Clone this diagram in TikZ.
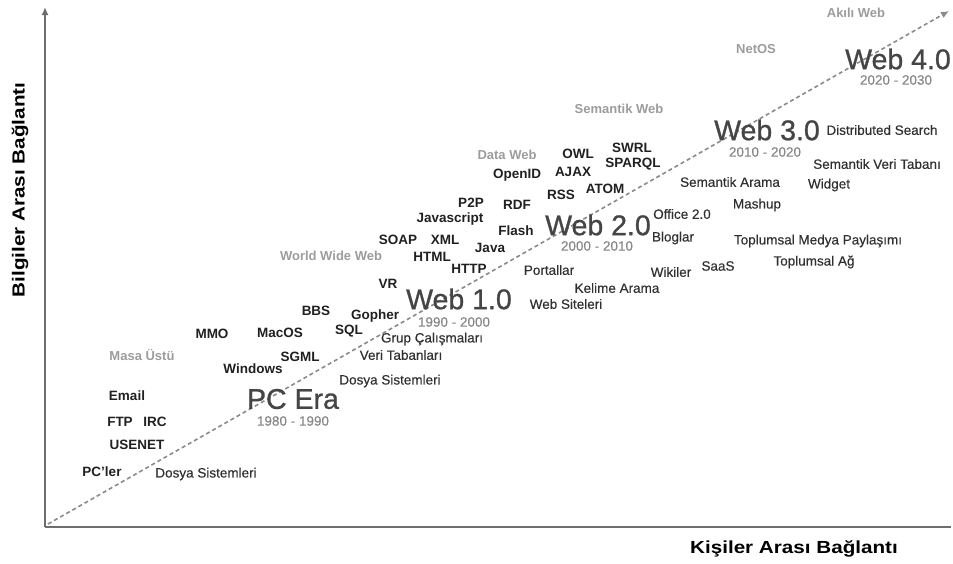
\documentclass[tikz,border=0pt]{standalone}
\usepackage{fontspec}
\setmainfont{Liberation Sans}
\newfontfamily\heavyfont[FakeBold=0.9]{Liberation Sans}
\newfontfamily\mediumfont[FakeBold=0.35]{Liberation Sans}
\usetikzlibrary{arrows.meta}
\definecolor{axisgray}{HTML}{6E6E6E}
\definecolor{dashgray}{HTML}{8A8A8A}
\definecolor{termblack}{HTML}{202020}
\definecolor{plaintext}{HTML}{303030}
\definecolor{eragray}{HTML}{9C9C9C}
\definecolor{webgray}{HTML}{454545}
\definecolor{yeargray}{HTML}{888888}
\tikzset{
  lbl/.style={inner sep=0pt, anchor=center},
  term/.style={lbl, text=termblack, font=\fontsize{13.5}{15}\selectfont\bfseries},
  plain/.style={lbl, text=plaintext, font=\mediumfont\fontsize{13.5}{15}\selectfont},
  era/.style={lbl, text=eragray, font=\fontsize{13}{15}\selectfont\bfseries},
  webname/.style={lbl, text=webgray, font=\heavyfont\fontsize{28.5}{32}\selectfont},
  years/.style={lbl, text=yeargray, font=\mediumfont\fontsize{13.5}{15}\selectfont},
  axislabel/.style={lbl, text=black, font=\fontsize{17.5}{20}\selectfont\bfseries},
  axisline/.style={draw=axisgray, line width=2pt},
  trend/.style={draw=dashgray, line width=1.6pt, dash pattern=on 4pt off 3pt,
    -{Latex[length=8pt,width=7pt]}}
}
\begin{document}
\begin{tikzpicture}[x=1pt,y=-1pt]
\useasboundingbox (0,0) rectangle (953,563);

% axes
\coordinate (origin) at (45,527);
\coordinate (ytop) at (45,7);
\coordinate (xend) at (951,527);
\coordinate (tstart) at (48,524);
\coordinate (ttop) at (949,11);
\draw[axisline, -{Latex[length=8pt,width=7pt]}, fill=black!80] (origin) -- (ytop);
\draw[axisline] (origin) -- (xend);
\draw[trend] (tstart) -- (ttop);

\node[axislabel, rotate=90, transform shape, xscale=1.18] (ylab) at (20,190) {Bilgiler Arası Bağlantı};
\node[axislabel, xscale=1.18, transform shape] (xlab) at (794,549) {Kişiler Arası Bağlantı};

% eras
\node[era] (masa) at (142,355) {Masa Üstü};
\node[era] (www) at (331,256) {World Wide Web};
\node[era] (dataweb) at (507,155) {Data Web};
\node[era] (semweb) at (619,109) {Semantik Web};
\node[era] (netos) at (756,49) {NetOS};
\node[era] (akilli) at (856,13) {Akılı Web};

% generations
\node[webname] (pcera) at (293,399) {PC Era};
\node[years] (y80) at (293,421) {1980 - 1990};
\node[webname] (web1) at (459,299) {Web 1.0};
\node[years] (y90) at (454,322) {1990 - 2000};
\node[webname] (web2) at (598,225) {Web 2.0};
\node[years] (y00) at (597,246) {2000 - 2010};
\node[webname] (web3) at (767,130) {Web 3.0};
\node[years] (y10) at (765,152) {2010 - 2020};
\node[webname] (web4) at (898,59) {Web 4.0};
\node[years] (y20) at (896,80) {2020 - 2030};

% technologies
\node[term] (email) at (127,396) {Email};
\node[term] (ftp) at (120,422) {FTP};
\node[term] (irc) at (155,422) {IRC};
\node[term] (usenet) at (137,445) {USENET};
\node[term] (pcler) at (102,472) {PC'ler};
\node[term] (mmo) at (212,334) {MMO};
\node[term] (macos) at (280,333) {MacOS};
\node[term] (windows) at (253,369) {Windows};
\node[term] (sgml) at (300,357) {SGML};
\node[term] (bbs) at (316,311) {BBS};
\node[term] (gopher) at (375,316) {Gopher};
\node[term] (sql) at (349,331) {SQL};
\node[term] (vr) at (388,284) {VR};
\node[term] (soap) at (398,240) {SOAP};
\node[term] (xml) at (445,240) {XML};
\node[term] (html) at (432,257) {HTML};
\node[term] (http) at (469,269) {HTTP};
\node[term] (javascript) at (450,219) {Javascript};
\node[term] (p2p) at (471,203) {P2P};
\node[term] (rdf) at (517,205) {RDF};
\node[term] (flash) at (516,231) {Flash};
\node[term] (java) at (490,248) {Java};
\node[term] (openid) at (517,175) {OpenID};
\node[term] (owl) at (578,154) {OWL};
\node[term] (ajax) at (573,172) {AJAX};
\node[term] (rss) at (561,195) {RSS};
\node[term] (atom) at (605,189) {ATOM};
\node[term] (sparql) at (633,164) {SPARQL};
\node[term] (swrl) at (632,148) {SWRL};

% applications
\node[plain] (dosya1) at (206,474) {Dosya Sistemleri};
\node[plain] (dosya2) at (390,381) {Dosya Sistemleri};
\node[plain] (veri) at (401,355) {Veri Tabanları};
\node[plain] (grup) at (432,339) {Grup Çalışmaları};
\node[plain] (siteler) at (566,304) {Web Siteleri};
\node[plain] (kelime) at (617,288) {Kelime Arama};
\node[plain] (portal) at (549,270) {Portallar};
\node[plain] (wiki) at (671,272) {Wikiler};
\node[plain] (saas) at (718,266) {SaaS};
\node[plain] (topag) at (814,262) {Toplumsal Ağ};
\node[plain] (medya) at (818,241) {Toplumsal Medya Paylaşımı};
\node[plain] (blog) at (673,238) {Bloglar};
\node[plain] (office) at (682,214) {Office 2.0};
\node[plain] (mashup) at (757,205) {Mashup};
\node[plain] (semarama) at (730,182) {Semantik Arama};
\node[plain] (widget) at (829,185) {Widget};
\node[plain] (semveri) at (877,164) {Semantik Veri Tabanı};
\node[plain] (distsearch) at (882,130) {Distributed Search};
\end{tikzpicture}
\end{document}
